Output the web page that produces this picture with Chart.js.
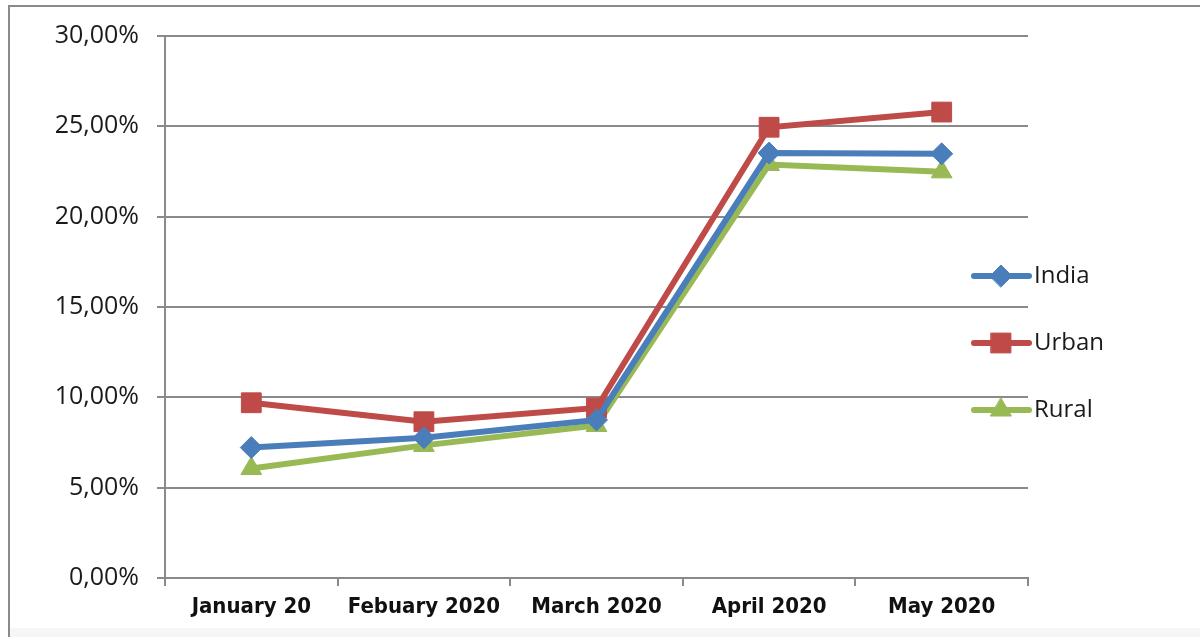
<!DOCTYPE html>
<html>
<head>
<meta charset="utf-8">
<script src="https://cdn.jsdelivr.net/npm/chart.js@4.4.1/dist/chart.umd.min.js"></script>
<style>
  html, body { margin: 0; padding: 0; background: #ffffff; }
  #wrap { position: relative; width: 1200px; height: 637px; overflow: hidden; }
  #frame { position: absolute; left: 8px; top: 5px; width: 1200px; height: 640px;
           border-left: 2px solid #8a8a8a; border-top: 2px solid #8a8a8a; box-sizing: border-box; }
  #strip { position: absolute; left: 10px; top: 628px; width: 1190px; height: 9px; background: #f6f6f6; }
  canvas { position: absolute; left: 0; top: 0; }
</style>
</head>
<body>
<div id="wrap">
  <div id="frame"></div>
  <div id="strip"></div>
  <canvas id="c" width="1200" height="637"></canvas>
</div>
<script>
const categories = ["January 20", "Febuary 2020", "March 2020", "April 2020", "May 2020"];
const india = [7.22, 7.76, 8.75, 23.52, 23.48];
const urban = [9.70, 8.65, 9.41, 24.95, 25.79];
const rural = [6.06, 7.34, 8.44, 22.89, 22.48];
const yTicks = [0, 5, 10, 15, 20, 25, 30];

const fmt = v => v.toFixed(2).replace('.', ',') + '%';

const legendPlugin = {
  id: 'sideLegend',
  afterDraw(chart) {
    const ctx = chart.ctx;
    const ys = [276, 343, 410];
    chart.data.datasets.forEach((ds, i) => {
      const y = ys[i];
      ctx.save();
      ctx.strokeStyle = ds.borderColor;
      ctx.lineWidth = 6;
      ctx.lineCap = 'round';
      ctx.beginPath();
      ctx.moveTo(974, y);
      ctx.lineTo(1029, y);
      ctx.stroke();
      ctx.fillStyle = ds.borderColor;
      ctx.strokeStyle = ds.borderColor;
      ctx.lineWidth = 1;
      Chart.helpers.drawPoint(ctx, { pointStyle: ds.pointStyle, radius: ds.pointRadius, rotation: 0, borderWidth: 1 }, 1001, y);
      ctx.fillStyle = '#1a1a1a';
      ctx.font = '24px "Open Sans"';
      ctx.textAlign = 'left';
      ctx.textBaseline = 'middle';
      ctx.fillText(ds.label, 1034, y);
      ctx.restore();
    });
  }
};

new Chart(document.getElementById('c'), {
  type: 'line',
  data: {
    labels: categories,
    datasets: [
      { label: 'India', data: india, borderColor: '#4A7EBB', backgroundColor: '#4A7EBB',
        borderWidth: 6, pointStyle: 'rectRot', pointRadius: 11, pointBorderWidth: 1, tension: 0 },
      { label: 'Urban', data: urban, borderColor: '#BE4B48', backgroundColor: '#BE4B48',
        borderWidth: 6, pointStyle: 'rect', pointRadius: 14, pointBorderWidth: 1, tension: 0 },
      { label: 'Rural', data: rural, borderColor: '#98B954', backgroundColor: '#98B954',
        borderWidth: 6, pointStyle: 'triangle', pointRadius: 12, pointBorderWidth: 1, tension: 0 }
    ]
  },
  options: {
    responsive: false,
    animation: false,
    devicePixelRatio: 1,
    layout: { padding: { left: 0, top: 36, right: 172, bottom: 0 } },
    plugins: { legend: { display: false }, tooltip: { enabled: false } },
    scales: {
      x: {
        type: 'category',
        offset: true,
        grid: { display: true, drawOnChartArea: false, drawTicks: true, tickLength: 8, offset: true, color: '#8a8a8a', lineWidth: 2 },
        border: { display: true, color: '#8a8a8a', width: 2 },
        ticks: { color: '#111', font: { family: '"DejaVu Sans Condensed", "Liberation Sans Narrow", "Open Sans", sans-serif', size: 22, weight: 'bold' }, padding: 8, maxRotation: 0 },
        afterFit(scale) { scale.height = 59; }
      },
      y: {
        min: 0, max: 30,
        afterBuildTicks(scale) { scale.ticks = yTicks.map(v => ({ value: v })); },
        grid: { color: '#8a8a8a', lineWidth: 2, tickLength: 8, drawTicks: true },
        border: { display: true, color: '#8a8a8a', width: 2 },
        ticks: { color: '#1a1a1a', font: { family: '"Open Sans", sans-serif', size: 25 }, padding: 18, callback: v => fmt(v) },
        afterFit(scale) { scale.width = 165; }
      }
    }
  },
  plugins: [legendPlugin]
});
</script>
</body>
</html>
